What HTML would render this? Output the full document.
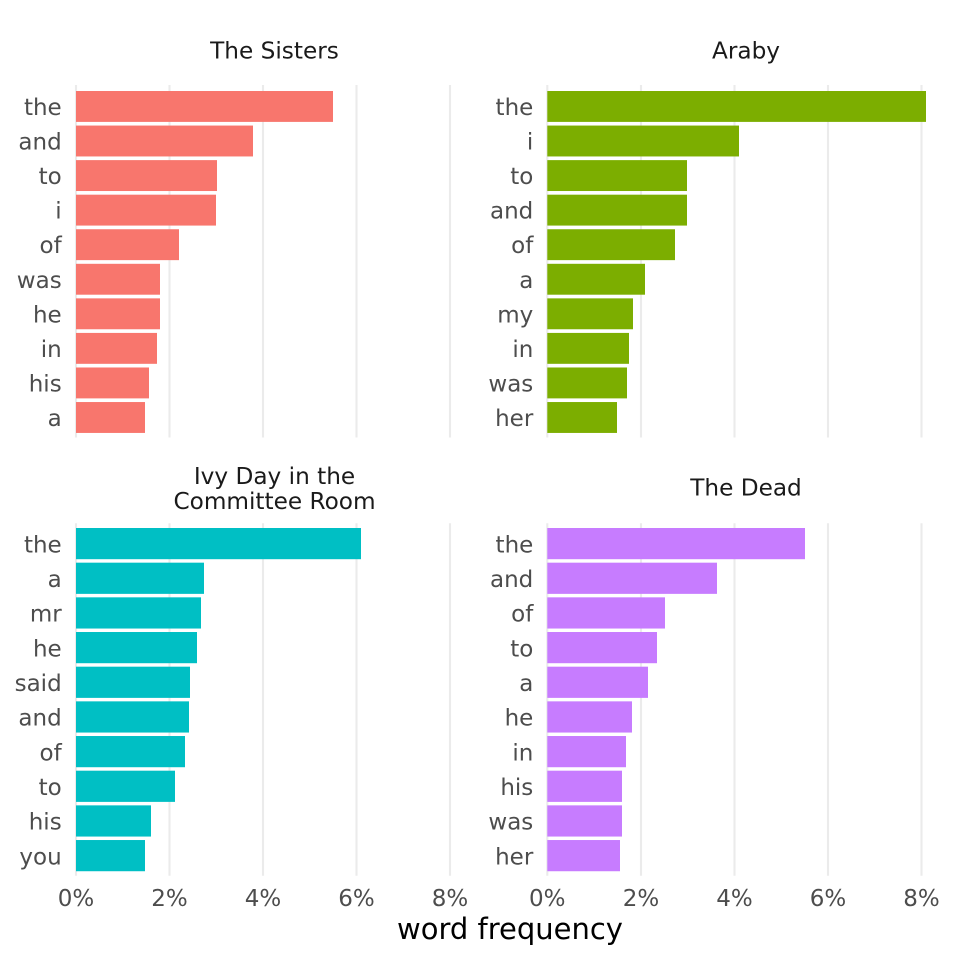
<!DOCTYPE html>
<html>
<head>
<meta charset="utf-8">
<style>
html,body{margin:0;padding:0;background:#fff;}
svg{display:block;}
text{font-family:"DejaVu Sans","Liberation Sans",sans-serif;}
.yt{font-size:23px;fill:#4D4D4D;text-anchor:end;}
.xt{font-size:23px;fill:#4D4D4D;text-anchor:middle;}
.st{font-size:23.2px;fill:#1A1A1A;text-anchor:middle;}
.g{stroke:#EBEBEB;stroke-width:2.1;}
</style>
</head>
<body>
<svg width="960" height="960" viewBox="0 0 960 960" xmlns="http://www.w3.org/2000/svg">
<rect width="960" height="960" fill="#fff"/>

<!-- gridlines top -->
<g class="g">
<line x1="76" y1="85" x2="76" y2="437.5"/>
<line x1="169.5" y1="85" x2="169.5" y2="437.5"/>
<line x1="263" y1="85" x2="263" y2="437.5"/>
<line x1="356.5" y1="85" x2="356.5" y2="437.5"/>
<line x1="450" y1="85" x2="450" y2="437.5"/>
<line x1="547.3" y1="85" x2="547.3" y2="437.5"/>
<line x1="641" y1="85" x2="641" y2="437.5"/>
<line x1="734.5" y1="85" x2="734.5" y2="437.5"/>
<line x1="828" y1="85" x2="828" y2="437.5"/>
<line x1="921.5" y1="85" x2="921.5" y2="437.5"/>
<!-- bottom -->
<line x1="76" y1="523.3" x2="76" y2="875.7"/>
<line x1="169.5" y1="523.3" x2="169.5" y2="875.7"/>
<line x1="263" y1="523.3" x2="263" y2="875.7"/>
<line x1="356.5" y1="523.3" x2="356.5" y2="875.7"/>
<line x1="450" y1="523.3" x2="450" y2="875.7"/>
<line x1="547.3" y1="523.3" x2="547.3" y2="875.7"/>
<line x1="641" y1="523.3" x2="641" y2="875.7"/>
<line x1="734.5" y1="523.3" x2="734.5" y2="875.7"/>
<line x1="828" y1="523.3" x2="828" y2="875.7"/>
<line x1="921.5" y1="523.3" x2="921.5" y2="875.7"/>
</g>

<!-- strip titles -->
<text class="st" x="274.5" y="58.3">The Sisters</text>
<text class="st" x="746" y="58.3">Araby</text>
<text class="st" x="274.5" y="484">Ivy Day in the</text>
<text class="st" x="274.5" y="509">Committee Room</text>
<text class="st" x="746" y="495.7">The Dead</text>

<!-- The Sisters -->
<g fill="#F8766D">
<rect x="76" y="91" width="257" height="30.9"/>
<rect x="76" y="125.56" width="177" height="30.9"/>
<rect x="76" y="160.12" width="141" height="30.9"/>
<rect x="76" y="194.68" width="140" height="30.9"/>
<rect x="76" y="229.24" width="103" height="30.9"/>
<rect x="76" y="263.8" width="84" height="30.9"/>
<rect x="76" y="298.36" width="84" height="30.9"/>
<rect x="76" y="332.92" width="81" height="30.9"/>
<rect x="76" y="367.48" width="73" height="30.9"/>
<rect x="76" y="402.04" width="69" height="30.9"/>
</g>
<g class="yt">
<text x="61.7" y="115">the</text>
<text x="61.7" y="149.56">and</text>
<text x="61.7" y="184.12">to</text>
<text x="61.7" y="218.68">i</text>
<text x="61.7" y="253.24">of</text>
<text x="61.7" y="287.8">was</text>
<text x="61.7" y="322.36">he</text>
<text x="61.7" y="356.92">in</text>
<text x="61.7" y="391.48">his</text>
<text x="61.7" y="426.04">a</text>
</g>

<!-- Araby -->
<g fill="#7CAE00">
<rect x="547.3" y="91" width="378.7" height="30.9"/>
<rect x="547.3" y="125.56" width="191.7" height="30.9"/>
<rect x="547.3" y="160.12" width="139.7" height="30.9"/>
<rect x="547.3" y="194.68" width="139.7" height="30.9"/>
<rect x="547.3" y="229.24" width="127.7" height="30.9"/>
<rect x="547.3" y="263.8" width="97.7" height="30.9"/>
<rect x="547.3" y="298.36" width="85.7" height="30.9"/>
<rect x="547.3" y="332.92" width="81.7" height="30.9"/>
<rect x="547.3" y="367.48" width="79.7" height="30.9"/>
<rect x="547.3" y="402.04" width="69.7" height="30.9"/>
</g>
<g class="yt">
<text x="533.3" y="115">the</text>
<text x="533.3" y="149.56">i</text>
<text x="533.3" y="184.12">to</text>
<text x="533.3" y="218.68">and</text>
<text x="533.3" y="253.24">of</text>
<text x="533.3" y="287.8">a</text>
<text x="533.3" y="322.36">my</text>
<text x="533.3" y="356.92">in</text>
<text x="533.3" y="391.48">was</text>
<text x="533.3" y="426.04">her</text>
</g>

<!-- Ivy Day -->
<g fill="#00BFC4">
<rect x="76" y="528" width="285" height="31.2"/>
<rect x="76" y="562.67" width="128" height="31.2"/>
<rect x="76" y="597.34" width="125" height="31.2"/>
<rect x="76" y="632.01" width="121" height="31.2"/>
<rect x="76" y="666.68" width="114" height="31.2"/>
<rect x="76" y="701.35" width="113" height="31.2"/>
<rect x="76" y="736.02" width="109" height="31.2"/>
<rect x="76" y="770.69" width="99" height="31.2"/>
<rect x="76" y="805.36" width="75" height="31.2"/>
<rect x="76" y="840.03" width="69" height="31.2"/>
</g>
<g class="yt">
<text x="61.7" y="552.3">the</text>
<text x="61.7" y="586.97">a</text>
<text x="61.7" y="621.64">mr</text>
<text x="61.7" y="656.31">he</text>
<text x="61.7" y="690.98">said</text>
<text x="61.7" y="725.65">and</text>
<text x="61.7" y="760.32">of</text>
<text x="61.7" y="794.99">to</text>
<text x="61.7" y="829.66">his</text>
<text x="61.7" y="864.33">you</text>
</g>

<!-- The Dead -->
<g fill="#C77CFF">
<rect x="547.3" y="528" width="257.7" height="31.2"/>
<rect x="547.3" y="562.67" width="169.7" height="31.2"/>
<rect x="547.3" y="597.34" width="117.7" height="31.2"/>
<rect x="547.3" y="632.01" width="109.7" height="31.2"/>
<rect x="547.3" y="666.68" width="100.7" height="31.2"/>
<rect x="547.3" y="701.35" width="84.7" height="31.2"/>
<rect x="547.3" y="736.02" width="78.7" height="31.2"/>
<rect x="547.3" y="770.69" width="74.7" height="31.2"/>
<rect x="547.3" y="805.36" width="74.7" height="31.2"/>
<rect x="547.3" y="840.03" width="72.7" height="31.2"/>
</g>
<g class="yt">
<text x="533.3" y="552.3">the</text>
<text x="533.3" y="586.97">and</text>
<text x="533.3" y="621.64">of</text>
<text x="533.3" y="656.31">to</text>
<text x="533.3" y="690.98">a</text>
<text x="533.3" y="725.65">he</text>
<text x="533.3" y="760.32">in</text>
<text x="533.3" y="794.99">his</text>
<text x="533.3" y="829.66">was</text>
<text x="533.3" y="864.33">her</text>
</g>

<!-- x tick labels -->
<g class="xt">
<text x="76" y="906">0%</text>
<text x="169.5" y="906">2%</text>
<text x="263" y="906">4%</text>
<text x="356.5" y="906">6%</text>
<text x="450" y="906">8%</text>
<text x="547.3" y="906">0%</text>
<text x="641" y="906">2%</text>
<text x="734.5" y="906">4%</text>
<text x="828" y="906">6%</text>
<text x="921.5" y="906">8%</text>
</g>

<!-- axis title -->
<text x="510" y="939" style="font-size:29px;fill:#000;text-anchor:middle;">word frequency</text>
</svg>
</body>
</html>
